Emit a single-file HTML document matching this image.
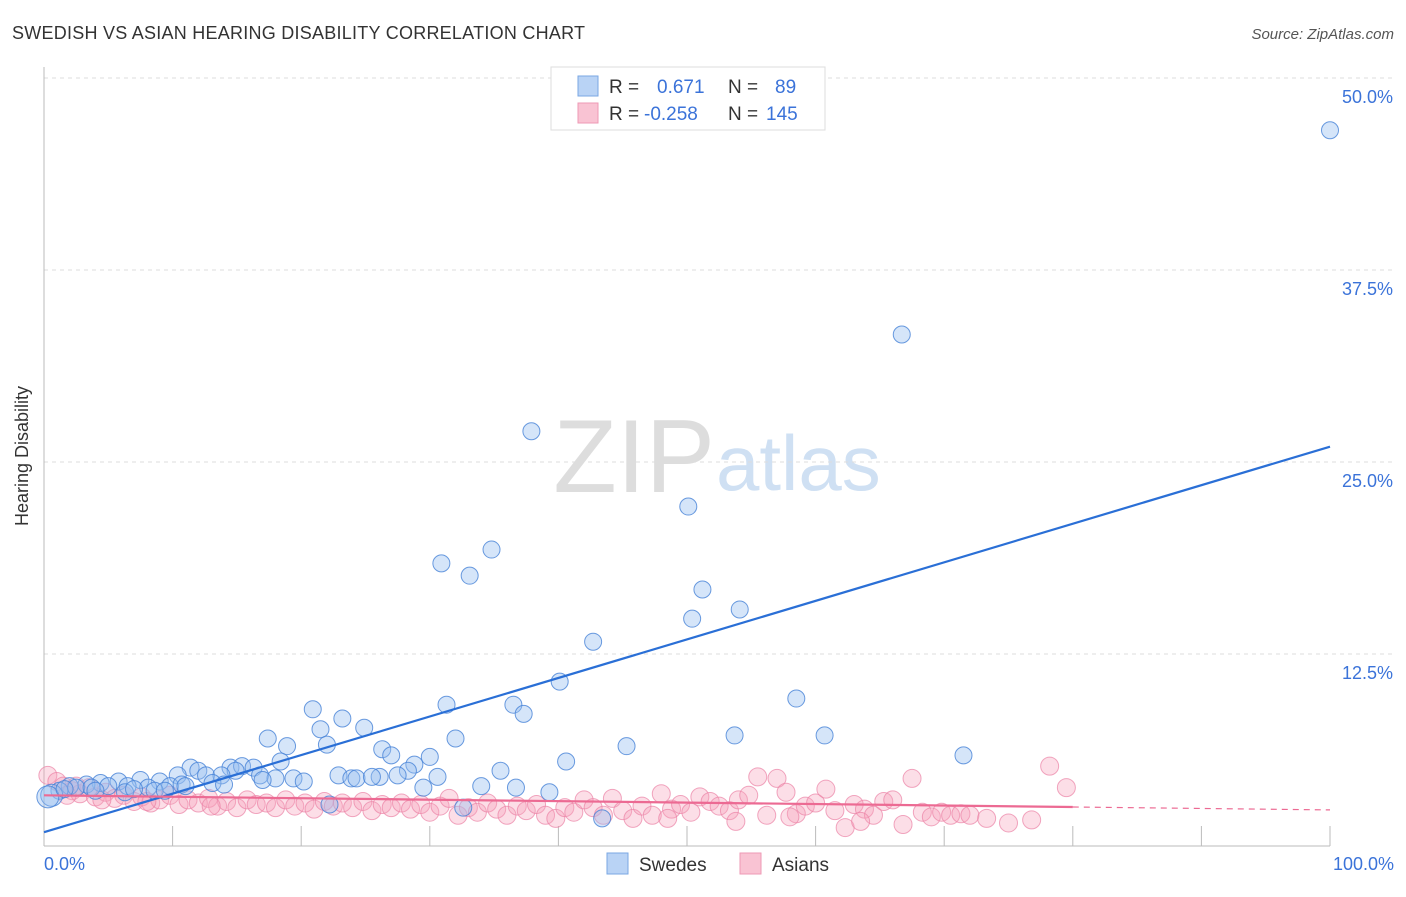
<!DOCTYPE html>
<html><head><meta charset="utf-8"><style>
body{margin:0;background:#fff;font-family:"Liberation Sans",sans-serif;}
svg text{font-family:"Liberation Sans",sans-serif;}
</style></head><body>
<svg id="chart" width="1406" height="892" xmlns="http://www.w3.org/2000/svg">
<text x="12" y="39" font-size="18" fill="#333" textLength="573">SWEDISH VS ASIAN HEARING DISABILITY CORRELATION CHART</text>
<text x="1394" y="39" font-size="15" fill="#555" font-style="italic" text-anchor="end">Source: ZipAtlas.com</text>
<text x="715" y="492" font-size="104" fill="#ddd" text-anchor="end" font-family="Liberation Serif">ZIP</text>
<text x="716" y="490" font-size="78" fill="#cfe0f3">atlas</text>
<g id="grid"></g>
<line x1="44" y1="67" x2="44" y2="846" stroke="#bbb"/>
<line x1="44" y1="846" x2="1330" y2="846" stroke="#bbb"/>
<text x="28" y="456" font-size="18" fill="#333" transform="rotate(-90 28 456)" text-anchor="middle">Hearing Disability</text>
<text x="44" y="870" font-size="18" fill="#3b73d9">0.0%</text>
<text x="1394" y="870" font-size="18" fill="#3b73d9" text-anchor="end">100.0%</text>
<g id="marks"></g>
<g>
<rect x="551" y="67" width="274" height="63" fill="#fff" stroke="#ddd"/>
<rect x="578" y="76" width="20" height="20" fill="#b9d3f5" stroke="#7aa7e3"/>
<rect x="578" y="103" width="20" height="20" fill="#f9c3d3" stroke="#ee9ab4"/>
<text x="609" y="93" font-size="19" fill="#333">R = <tspan fill="#3b73d9" x="657">0.671</tspan><tspan fill="#333" x="728">N =</tspan><tspan fill="#3b73d9" x="775">89</tspan></text>
<text x="609" y="120" font-size="19" fill="#333">R = <tspan fill="#3b73d9" x="644">-0.258</tspan><tspan fill="#333" x="728">N =</tspan><tspan fill="#3b73d9" x="766">145</tspan></text>
</g>
<g>
<rect x="607" y="853" width="21" height="21" fill="#b9d3f5" stroke="#7aa7e3"/>
<text x="639" y="871" font-size="19" fill="#333">Swedes</text>
<rect x="740" y="853" width="21" height="21" fill="#f9c3d3" stroke="#ee9ab4"/>
<text x="772" y="871" font-size="19" fill="#333">Asians</text>
</g>
</svg>
<script>
const yTicks=[12.5,25,37.5,50];
const yTickLabels=["12.5%","25.0%","37.5%","50.0%"];
const xTicks=[10,20,30,40,50,60,70,80,90,100];
const swedesX=[100,66.7,37.9,50.1,30.9,33.1,34.8,51.2,54.1,50.4,42.7,40.1,58.5,31.3,36.5,37.3,20.9,23.2,24.9,21.5,17.4,18.9,22.0,32.0,53.7,60.7,45.3,26.3,27.0,30.0,71.5,40.6,18.4,11.4,12.0,14.5,15.4,16.3,14.9,28.8,35.5,28.3,10.4,12.6,13.8,16.8,18.0,19.4,20.2,22.9,23.9,24.3,26.1,27.5,30.6,13.1,9.0,7.5,5.8,4.4,3.3,2.0,1.2,0.6,2.5,5.0,6.5,8.1,9.8,6.3,8.6,9.4,10.7,29.5,34.0,36.7,39.3,32.6,22.2,43.4,3.7,0.3,1.6,4.0,7.0,11.0,14.0,17.0,25.5];
const swedesY=[46.6,33.3,27.0,22.1,18.4,17.6,19.3,16.7,15.4,14.8,13.3,10.7,9.6,9.2,9.2,8.6,8.9,8.3,7.7,7.6,7.0,6.5,6.6,7.0,7.2,7.2,6.5,6.3,5.9,5.8,5.9,5.5,5.5,5.1,4.9,5.1,5.2,5.1,4.9,5.3,4.9,4.9,4.6,4.6,4.6,4.6,4.4,4.4,4.2,4.6,4.4,4.4,4.5,4.6,4.5,4.1,4.2,4.3,4.2,4.1,4.0,3.9,3.6,3.3,3.8,3.9,3.9,3.8,3.9,3.5,3.6,3.6,4.0,3.8,3.9,3.8,3.5,2.5,2.7,1.8,3.8,3.2,3.7,3.6,3.7,3.9,4.0,4.3,4.5];
const asiansX=[0.3,1.0,1.5,2.2,2.8,3.5,4.0,4.8,5.5,6.2,7.0,7.6,8.3,9.0,9.8,10.5,11.2,12.0,12.8,13.5,14.2,15.0,15.8,16.5,17.3,18.0,18.8,19.5,20.3,21.0,21.8,22.5,23.2,24.0,24.8,25.5,26.3,27.0,27.8,28.5,29.3,30.0,30.8,31.5,32.2,33.0,33.7,34.5,35.2,36.0,36.8,37.5,38.3,39.0,39.8,40.5,41.2,42.0,42.7,43.5,44.2,45.0,45.8,46.5,47.3,48.0,48.8,49.5,50.3,51.0,51.8,52.5,53.3,54.0,54.8,55.5,56.2,57.0,57.7,58.5,59.2,60.0,60.8,61.5,62.3,63.0,63.8,64.5,65.3,66.0,66.8,67.5,68.3,69.0,69.8,70.5,71.3,72.0,73.3,75.0,76.8,78.2,79.5,48.5,53.8,58.0,63.5,13.0,8.0,4.5,2.5,1.8];
const asiansY=[4.6,4.2,3.9,3.6,3.4,3.8,3.2,3.5,3.1,3.3,2.9,3.2,2.8,3.0,3.3,2.7,3.0,2.8,3.1,2.6,2.9,2.5,3.0,2.7,2.8,2.5,3.0,2.6,2.8,2.4,2.9,2.6,2.8,2.5,2.9,2.3,2.7,2.5,2.8,2.4,2.7,2.2,2.6,3.1,2.0,2.5,2.2,2.8,2.4,2.0,2.6,2.3,2.7,2.0,1.8,2.5,2.2,3.0,2.5,2.0,3.1,2.3,1.8,2.6,2.0,3.4,2.4,2.7,2.2,3.2,2.9,2.6,2.3,3.0,3.3,4.5,2.0,4.4,3.5,2.1,2.6,2.8,3.7,2.3,1.2,2.7,2.4,2.0,2.9,3.0,1.4,4.4,2.2,1.9,2.2,2.0,2.1,2.0,1.8,1.5,1.7,5.2,3.8,1.8,1.6,1.9,1.6,2.6,2.9,3.0,3.9,3.3];
const swedesTrend=[0.9,26.0];
const asiansTrend=[3.3,2.35];
const X0=44,X1=1330,Y0=846,PXPER=15.36;
function sx(v){return X0+(X1-X0)*v/100;}
function sy(v){return Y0-v*PXPER;}
const NS="http://www.w3.org/2000/svg";
const grid=document.getElementById('grid'),marks=document.getElementById('marks');
function mk(tag,attrs,parent){const e=document.createElementNS(NS,tag);for(const k in attrs)e.setAttribute(k,attrs[k]);parent.appendChild(e);return e;}
yTicks.forEach((t,i)=>{
 const l=mk('line',{x1:X0,x2:1394,y1:sy(t),y2:sy(t),stroke:'#ddd','stroke-dasharray':'4,4'},grid);
 
 
 const tx=mk('text',{x:1393,y:sy(t)+25,'font-size':18,fill:'#3b73d9','text-anchor':'end'},grid);
 tx.textContent=yTickLabels[i];
 
 
});
xTicks.forEach(t=>{
 const l=mk('line',{x1:sx(t),x2:sx(t),y1:826,y2:846,stroke:'#bbb'},grid);
 
 
});
asiansX.forEach((x,i)=>{
 const c=mk('circle',{cx:sx(x),cy:sy(asiansY[i]),r:9,fill:'rgba(245,160,185,0.35)',stroke:'rgba(235,130,165,0.7)','stroke-width':1},marks);
 
 
});
swedesX.forEach((x,i)=>{
 const c=mk('circle',{cx:sx(x),cy:sy(swedesY[i]),r:(x<1?11:8.5),fill:'rgba(150,190,240,0.4)',stroke:'rgba(70,130,215,0.8)','stroke-width':1},marks);
 
 
});
const bt=mk('line',{x1:sx(0),y1:sy(swedesTrend[0]),x2:sx(100),y2:sy(swedesTrend[1]),stroke:'#2a6fd6','stroke-width':2.2},marks);


const ay=x=>asiansTrend[0]+(asiansTrend[1]-asiansTrend[0])*x/100;
const at=mk('line',{x1:sx(0),y1:sy(ay(0)),x2:sx(80),y2:sy(ay(80)),stroke:'#ec6a93','stroke-width':2.2},marks);


const ad=mk('line',{x1:sx(80),y1:sy(ay(80)),x2:sx(100),y2:sy(ay(100)),stroke:'#ec6a93','stroke-width':1.2,'stroke-dasharray':'6,5'},marks);


</script>
</body></html>
